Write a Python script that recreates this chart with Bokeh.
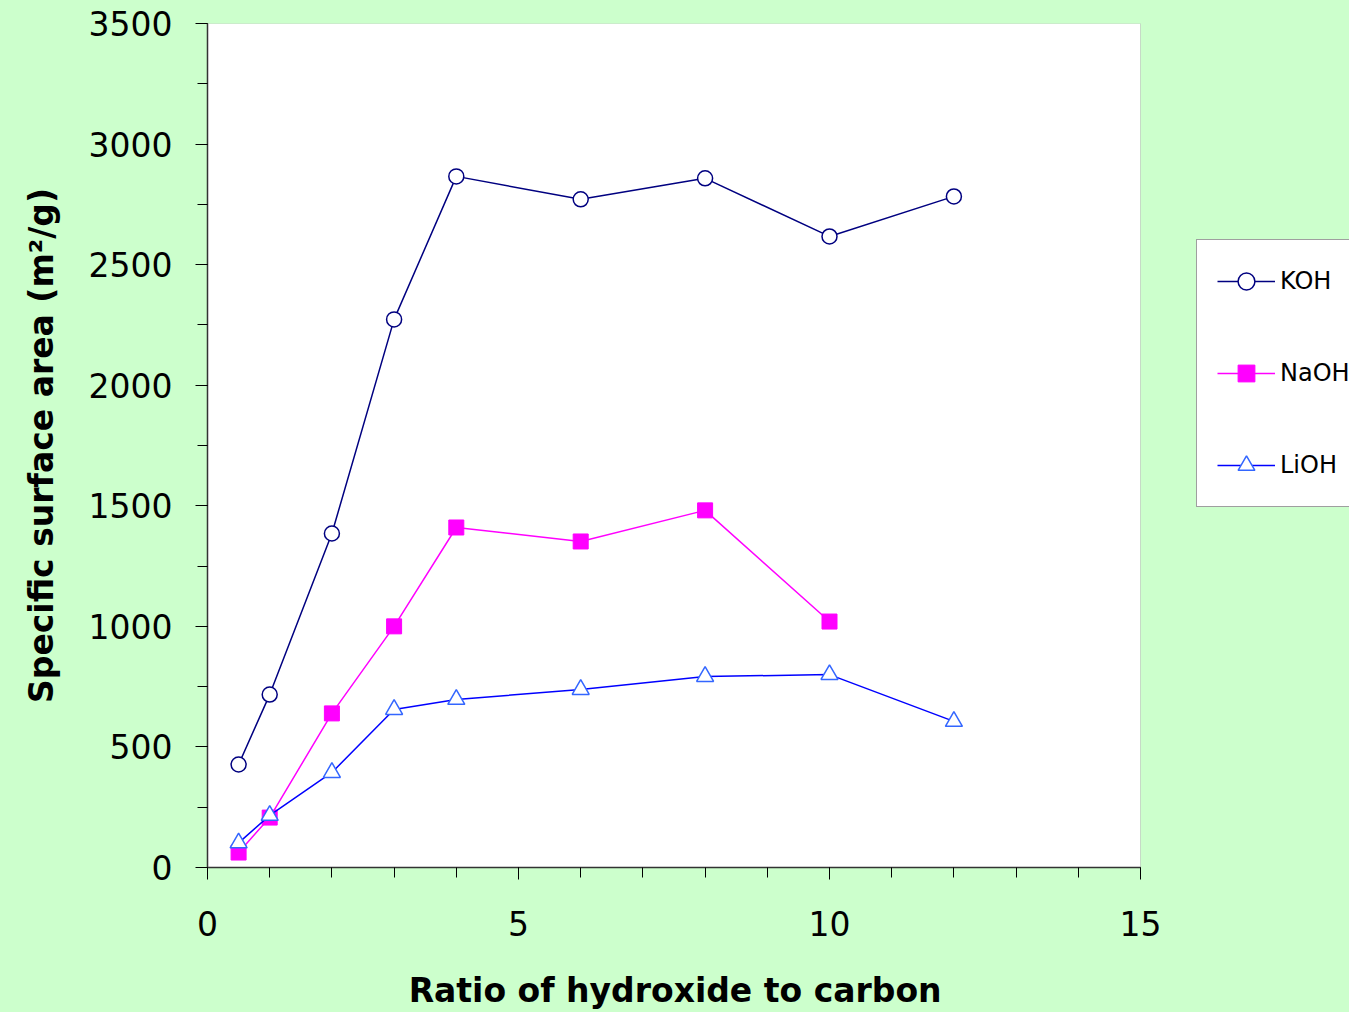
from bokeh.plotting import figure
from bokeh.models import Range1d, Legend, LegendItem, FixedTicker, BoxAnnotation
from bokeh.embed import file_html
from bokeh.resources import INLINE

# ---- data ----
koh_x = [0.5, 1, 2, 3, 4, 6, 8, 10, 12]
koh_y = [427, 717, 1385, 2273, 2866, 2771, 2858, 2617, 2783]
naoh_x = [0.5, 1, 2, 3, 4, 6, 8, 10]
naoh_y = [62, 207, 639, 1000, 1410, 1352, 1481, 1020]
lioh_x = [0.5, 1, 2, 3, 4, 6, 8, 10, 12]
lioh_y = [102, 216, 394, 655, 697, 738, 792, 800, 606]
x_ticks = [0, 5, 10, 15]
y_ticks = [0, 500, 1000, 1500, 2000, 2500, 3000, 3500]
X_MAX, Y_MAX = 15, 3500
x_title = "Ratio of hydroxide to carbon"
y_title = "Specific surface area (m²/g)"

BG = "#CCFFCC"
FONT = "DejaVu Sans"

# frame spans to the right edge so the legend (which sits outside the plot box) is not clipped;
# the white plot box itself covers 0..15 only
LEFT, RIGHT_BOX, W = 207, 1140, 1349
x_end = X_MAX * (W - LEFT) / (RIGHT_BOX - LEFT)

p = figure(width=W, height=1012, output_backend="svg", toolbar_location=None,
           x_range=Range1d(0, x_end), y_range=Range1d(0, Y_MAX),
           min_border_left=LEFT, min_border_right=0, min_border_top=23, min_border_bottom=145)
p.background_fill_color = BG
p.border_fill_color = BG
p.outline_line_color = None
p.grid.visible = False

box = BoxAnnotation(left=0, right=X_MAX, bottom=0, top=Y_MAX, fill_color="white", fill_alpha=1,
                    line_color="#808080", line_width=1, level="underlay")
p.add_layout(box)

p.xaxis.ticker = FixedTicker(ticks=x_ticks, minor_ticks=list(range(0, 16)))
p.yaxis.ticker = FixedTicker(ticks=y_ticks, minor_ticks=list(range(0, 3501, 250)))
p.xaxis.bounds = (0, X_MAX)

for ax in (p.xaxis[0], p.yaxis[0]):
    ax.axis_line_color = "#333333"
    ax.axis_line_width = 1.5
    ax.major_tick_line_color = "black"
    ax.minor_tick_line_color = "black"
    ax.major_tick_line_width = 1
    ax.minor_tick_line_width = 1
    ax.major_tick_in = 0
    ax.major_tick_out = 12
    ax.minor_tick_in = 0
    ax.minor_tick_out = 10
    ax.major_label_text_font = FONT
    ax.major_label_text_font_size = "33px"
    ax.major_label_text_color = "black"
    ax.axis_label_text_font = FONT
    ax.axis_label_text_font_size = "33px"
    ax.axis_label_text_font_style = "bold"
    ax.axis_label_text_color = "black"

# the x label is centred on the (wider) frame; trailing no-break spaces shift it
# so that it is centred under the white plot box
p.xaxis.axis_label = x_title + "\u00a0" * 18
p.yaxis.axis_label = y_title
p.xaxis.major_label_standoff = 31
p.yaxis.major_label_standoff = 23
p.xaxis.axis_label_standoff = 32
p.yaxis.axis_label_standoff = 25

# series
l1 = p.line(koh_x, koh_y, line_color="#000080", line_width=1.5)
s1 = p.scatter(koh_x, koh_y, marker="circle", size=15, line_color="#000080",
               fill_color="white", line_width=1.5)
l2 = p.line(naoh_x, naoh_y, line_color="#FF00FF", line_width=1.5)
s2 = p.scatter(naoh_x, naoh_y, marker="square", size=15, line_color="#FF00FF",
               fill_color="#FF00FF", line_width=1)
l3 = p.line(lioh_x, lioh_y, line_color="#0000FF", line_width=1.5)
s3 = p.scatter(lioh_x, lioh_y, marker="triangle", size=17, line_color="#3366FF",
               fill_color="white", line_width=1.5)

legend = Legend(items=[
    LegendItem(label="KOH", renderers=[l1, s1]),
    LegendItem(label="NaOH", renderers=[l2, s2]),
    LegendItem(label="LiOH", renderers=[l3, s3]),
], location=(1196 - LEFT, 360))
legend.glyph_width = 58
legend.glyph_height = 42
legend.spacing = 50
legend.padding = 20
legend.margin = 0
legend.label_standoff = 5
legend.label_text_font = FONT
legend.label_text_font_size = "24px"
legend.label_text_color = "black"
legend.border_line_color = "#404040"
legend.border_line_width = 1
legend.background_fill_color = "white"
legend.background_fill_alpha = 1
p.add_layout(legend, "center")

html = file_html(p, INLINE)
html = html.replace("</head>", "<style>html,body{background:%s;}</style></head>" % BG, 1)
open("out.html", "w").write(html)
